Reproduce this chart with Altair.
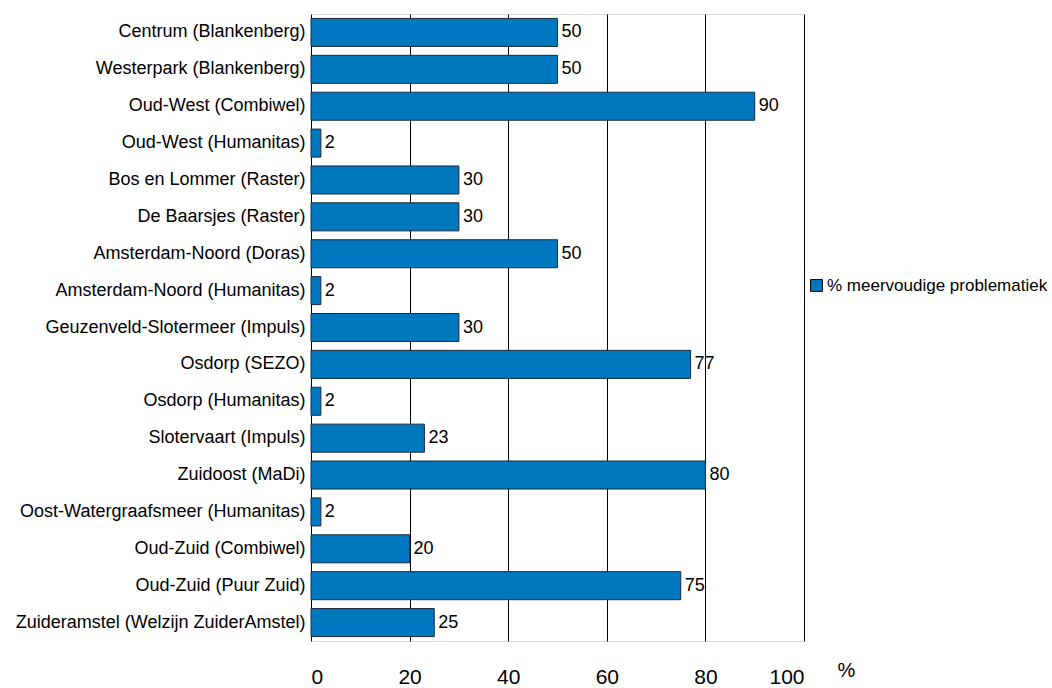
import altair as alt
import pandas as pd

categories = [
    "Centrum (Blankenberg)",
    "Westerpark (Blankenberg)",
    "Oud-West (Combiwel)",
    "Oud-West (Humanitas)",
    "Bos en Lommer (Raster)",
    "De Baarsjes (Raster)",
    "Amsterdam-Noord (Doras)",
    "Amsterdam-Noord (Humanitas)",
    "Geuzenveld-Slotermeer (Impuls)",
    "Osdorp (SEZO)",
    "Osdorp (Humanitas)",
    "Slotervaart (Impuls)",
    "Zuidoost (MaDi)",
    "Oost-Watergraafsmeer (Humanitas)",
    "Oud-Zuid (Combiwel)",
    "Oud-Zuid (Puur Zuid)",
    "Zuideramstel (Welzijn ZuiderAmstel)",
]
values = [50, 50, 90, 2, 30, 30, 50, 2, 30, 77, 2, 23, 80, 2, 20, 75, 25]
series_name = "% meervoudige problematiek"
x_ticks = [0, 20, 40, 60, 80, 100]

df = pd.DataFrame({"cat": categories, "val": values, "series": series_name})

FONT = "Liberation Sans"

y_enc = alt.Y("cat:N", sort=categories,
              scale=alt.Scale(paddingInner=0.24, paddingOuter=0.12),
              axis=alt.Axis(title=None, ticks=False, domain=False, labelFontSize=18,
                            labelColor="#000", labelPadding=6, labelFont=FONT, labelLimit=400))
x_enc = alt.X("val:Q", scale=alt.Scale(domain=[0, 100], nice=False),
              axis=alt.Axis(values=x_ticks, grid=True, gridColor="#000", gridWidth=1,
                            ticks=False, domain=False, labelFontSize=21, labelColor="#000",
                            labelFont=FONT, labelPadding=25, title="%", titleFont=FONT,
                            titleFontSize=20, titleFontWeight="normal", titleColor="#000",
                            titleX=526, titleY=29, titleAlign="left", titleBaseline="middle"))

bars = alt.Chart(df).mark_bar(stroke="#1a2a3a", strokeWidth=1).encode(
    y=y_enc, x=x_enc,
    color=alt.Color("series:N", scale=alt.Scale(range=["#0078C0"]),
                    legend=alt.Legend(title=None, orient="none", legendX=497, legendY=263,
                                      symbolType="square", symbolSize=140,
                                      symbolStrokeColor="#000", symbolStrokeWidth=1,
                                      labelFontSize=17, labelFont=FONT, labelColor="#000",
                                      labelLimit=400, labelOffset=2, symbolOffset=0, padding=0)),
)

labels = alt.Chart(df).mark_text(align="left", baseline="middle", dx=4, fontSize=18,
                                  font=FONT, color="#000").encode(
    y=alt.Y("cat:N", sort=categories), x="val:Q", text="val:Q")

chart = (bars + labels).properties(
    width=493, height=627,
    autosize=alt.AutoSizeParams(type="none"),
    padding={"left": 311, "top": 14, "right": 248, "bottom": 47},
).configure_view(stroke="#000", strokeWidth=1).configure(background="white")

chart.save("out.html", embed_options={"renderer": "svg", "actions": False})
